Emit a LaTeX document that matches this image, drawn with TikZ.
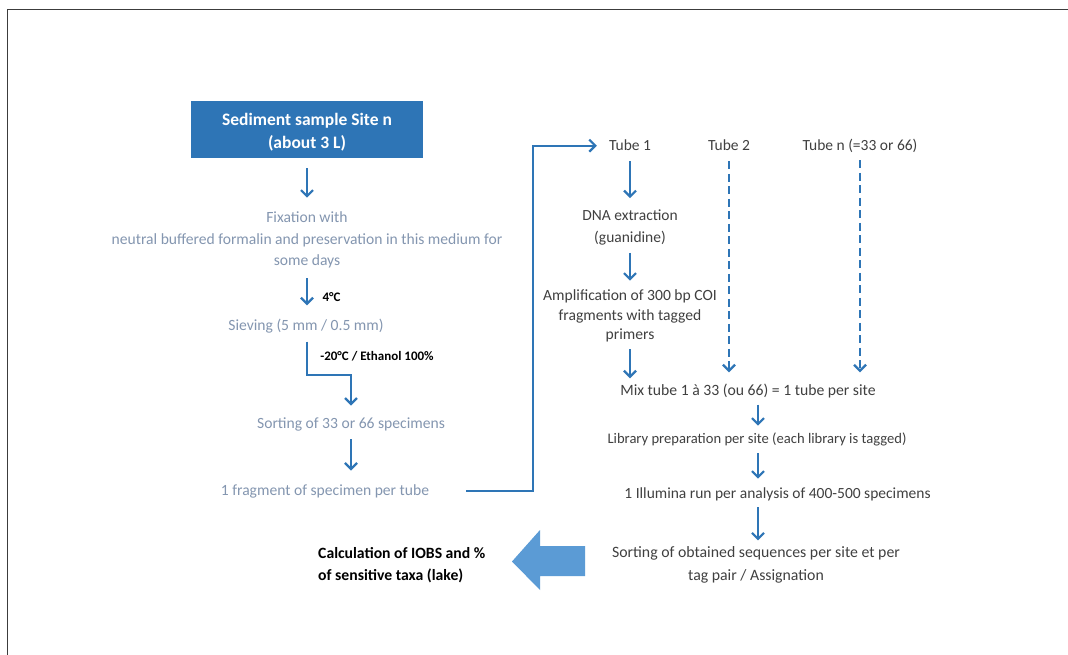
\documentclass[tikz,border=0pt]{standalone}
\usepackage{fontspec}
\setmainfont{Carlito}
\usetikzlibrary{arrows.meta,calc}
\definecolor{arrblue}{HTML}{2E75B6}
\definecolor{boxblue}{HTML}{2E75B6}
\definecolor{blockblue}{HTML}{5B9BD5}
\definecolor{lefttext}{HTML}{8496B0}
\definecolor{righttext}{HTML}{404040}
\definecolor{framegray}{HTML}{3C3C3C}
\begin{document}
\begin{tikzpicture}[x=1pt,y=-1pt,
  lefttxt/.style={inner sep=0pt, align=center, text=lefttext, font=\fontsize{15.6}{21.5}\selectfont},
  righttxt/.style={inner sep=0pt, align=center, text=righttext, font=\fontsize{15.5}{22}\selectfont},
  boldlbl/.style={inner sep=0pt, font=\bfseries\fontsize{13}{15}\selectfont, text=black},
  calctxt/.style={inner sep=0pt, align=left, font=\bfseries\fontsize{15.7}{22}\selectfont, text=black},
  sitebox/.style={fill=boxblue, minimum width=232pt, minimum height=57pt, inner sep=0pt},
  sitetxt/.style={text=white, font=\bfseries\fontsize{17.5}{23}\selectfont, align=center, inner sep=0pt},
  arr/.style={draw=arrblue, line width=2.3pt, -{Straight Barb[length=6pt,width=12pt,line width=2.2pt]}},
  dasharr/.style={arr, dash pattern=on 8pt off 4.5pt},
]
\useasboundingbox (0,0) rectangle (1068,655);
\fill[white] (0,0) rectangle (1068,655);
\draw[framegray, line width=1.5pt] (1068,9.5) -- (7.5,9.5) -- (7.5,655);

% left column
\node[sitebox] (sed) at (307,129.5) {};
\node[sitetxt] (sedtxt) at (307,132) {Sediment sample Site n\\(about 3 L)};
\node[lefttxt] (fix) at (307,240) {Fixation with\\neutral buffered formalin and preservation in this medium for\\some days};
\node[boldlbl] (c4) at (331.5,297) {4°C};
\node[boldlbl] (c20) at (377,356) {-20°C / Ethanol 100\%};
\node[lefttxt] (sieve) at (306,326.5) {Sieving (5 mm / 0.5 mm)};
\node[lefttxt] (sort) at (351,424.5) {Sorting of 33 or 66 specimens};
\node[lefttxt] (frag) at (325,491.5) {1 fragment of specimen per tube};

% right column
\node[righttxt, anchor=base] (tube1) at (630,151) {Tube 1};
\node[righttxt, anchor=base] (tube2) at (729,151) {Tube 2};
\node[righttxt, anchor=base] (tuben) at (860,151) {Tube n (=33 or 66)};
\node[righttxt] (dna) at (630,227) {DNA extraction\\(guanidine)};
\node[righttxt, font=\fontsize{15.6}{19.5}\selectfont] (amp) at (630,316) {Amplification of 300 bp COI\\fragments with tagged\\primers};
\node[righttxt, font=\fontsize{15.7}{22}\selectfont] (mix) at (748,391.5) {Mix tube 1 à 33 (ou 66) = 1 tube per site};
\node[righttxt, font=\fontsize{14.6}{22}\selectfont] (lib) at (757,439.5) {Library preparation per site (each library is tagged)};
\node[righttxt] (ill) at (777.5,494.5) {1 Illumina run per analysis of 400-500 specimens};
\node[righttxt, font=\fontsize{15.8}{23}\selectfont] (seqs) at (756,565) {Sorting of obtained sequences per site et per\\tag pair / Assignation};
\node[calctxt, anchor=west] (calc) at (318,565) {Calculation of IOBS and \%\\of sensitive taxa (lake)};

% connectors left
\draw[arr, shorten <=10pt, shorten >=14pt] (sed.south) -- (sed.south |- fix.north);
\draw[arr, shorten <=10pt, shorten >=14pt] (fix.south) -- (fix.south |- sieve.north);
\coordinate (elb) at (307,375);
\draw[arr, shorten <=8pt, shorten >=12pt] (sieve.south -| elb) -- (elb) -| (sort.north);
\draw[arr, shorten <=8pt, shorten >=14pt] (sort.south) -- (sort.south |- frag.north);

\coordinate (fragout) at (466,491);
\coordinate (bend) at (533,491);
\draw[arr, shorten >=12pt] (fragout) -- (bend) |- (tube1.west);

% connectors right
\draw[arr, shorten <=10pt, shorten >=11pt] (tube1.south) -- (tube1.south |- dna.north);
\draw[arr, shorten <=8pt, shorten >=9pt] (dna.south) -- (dna.south |- amp.north);
\draw[arr, shorten <=7pt, shorten >=6pt] (amp.south) -- (amp.south |- mix.north);
\draw[dasharr, shorten <=10pt, shorten >=12pt] (tube2.south) -- (tube2.south |- mix.north);
\draw[dasharr, shorten <=7pt, shorten >=12pt] (tuben.south) -- (tuben.south |- mix.north);
\coordinate (rc) at (758,0);
\draw[arr, shorten <=6pt, shorten >=7pt] (mix.south -| rc) -- (lib.north -| rc);
\draw[arr, shorten <=7pt, shorten >=9pt] (lib.south -| rc) -- (ill.north -| rc);
\draw[arr, shorten <=6pt, shorten >=6pt] (ill.south -| rc) -- (seqs.north -| rc);

% block arrow
\fill[blockblue] (585,546) -- (540,546) -- (540,530) -- (512,561.5) -- (540,590) -- (540,576) -- (585,576) -- cycle;
\end{tikzpicture}
\end{document}
